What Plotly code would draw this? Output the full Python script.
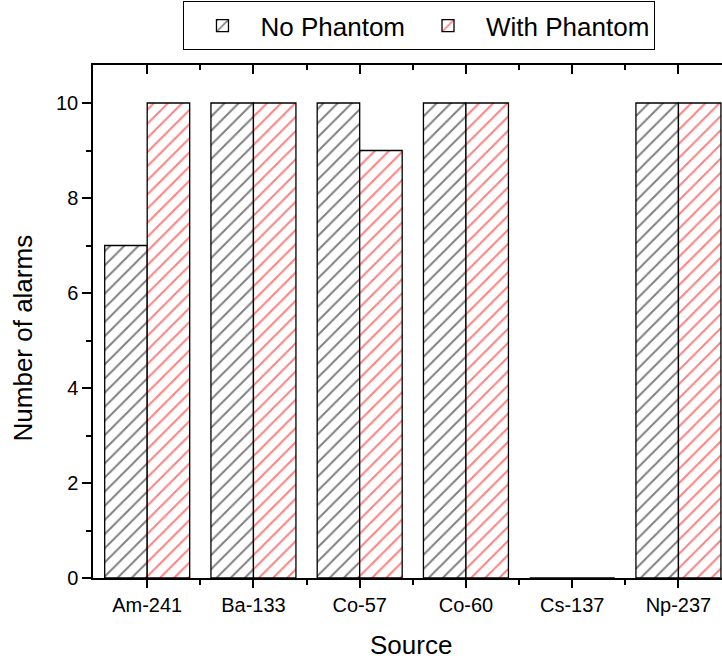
import plotly.graph_objects as go

categories = ["Am-241", "Ba-133", "Co-57", "Co-60", "Cs-137", "Np-237"]
no_phantom = [7, 10, 10, 10, 0, 10]
with_phantom = [10, 10, 9, 10, 0, 10]
y_ticks = [0, 2, 4, 6, 8, 10]
y_minor = [1, 3, 5, 7, 9]

xpos = list(range(len(categories)))
font_family = "Liberation Sans, Arial, sans-serif"

fig = go.Figure()
fig.add_trace(go.Bar(
    x=xpos, y=no_phantom, name="No Phantom",
    marker=dict(color="white", line=dict(color="black", width=1.3),
                pattern=dict(shape="/", fgcolor="black", bgcolor="white", size=10, solidity=0.2)),
))
fig.add_trace(go.Bar(
    x=xpos, y=with_phantom, name="With Phantom",
    marker=dict(color="white", line=dict(color="black", width=1.3),
                pattern=dict(shape="/", fgcolor="red", bgcolor="white", size=10, solidity=0.2)),
))
# invisible trace for top axis
fig.add_trace(go.Scatter(x=[xpos[0]], y=[0], xaxis="x2", mode="markers",
                         marker=dict(opacity=0), showlegend=False, hoverinfo="skip"))

xr = [-0.51, 5.41]
minor_x = [i + 0.5 for i in xpos[:-1]]

fig.update_layout(
    width=722, height=661,
    paper_bgcolor="white", plot_bgcolor="white",
    margin=dict(l=93, r=0, t=65, b=83, autoexpand=False),
    barmode="group", bargap=0.2, bargroupgap=0,
    font=dict(family=font_family, color="black", size=20),
    showlegend=True,
    legend=dict(orientation="h", xref="container", yref="container",
                x=0.581, y=0.998, xanchor="center", yanchor="top",
                bordercolor="black", borderwidth=1, bgcolor="white",
                font=dict(size=26, family=font_family), itemwidth=66,
                traceorder="normal", tracegroupgap=0),
    xaxis=dict(range=xr, tickmode="array", tickvals=xpos, ticktext=categories,
               showline=True, linecolor="black", linewidth=1.5, automargin=False,
               ticks="outside", ticklen=8, tickwidth=1.5, tickcolor="black",
               minor=dict(tickmode="array", tickvals=minor_x, ticks="outside",
                          ticklen=5, tickwidth=1.5, tickcolor="black"),
               showgrid=False, zeroline=False,
               tickfont=dict(size=20)),
    xaxis2=dict(range=xr, overlaying="x", side="top", anchor="y",
                tickmode="array", tickvals=xpos, showticklabels=False,
                showline=True, linecolor="black", linewidth=1.5, automargin=False,
                ticks="inside", ticklen=9, tickwidth=1.5, tickcolor="black",
                minor=dict(tickmode="array", tickvals=minor_x, ticks="inside",
                           ticklen=5, tickwidth=1.5, tickcolor="black"),
                showgrid=False, zeroline=False),
    yaxis=dict(range=[0, 10.8], tickmode="array", tickvals=y_ticks,
               showline=True, linecolor="black", linewidth=1.5, automargin=False,
               ticks="outside", ticklen=9, tickwidth=1.5, tickcolor="black",
               minor=dict(tickmode="array", tickvals=y_minor, ticks="outside",
                          ticklen=5, tickwidth=1.5, tickcolor="black"),
               showgrid=False, zeroline=False,
               tickfont=dict(size=20)),
    annotations=[
        dict(text="Source", xref="paper", yref="paper", x=0.506, y=-0.13,
             xanchor="center", yanchor="middle", showarrow=False,
             font=dict(size=26, family=font_family, color="black")),
        dict(text="Number of alarms", xref="paper", yref="paper", x=-0.112, y=0.468,
             xanchor="center", yanchor="middle", showarrow=False, textangle=-90,
             font=dict(size=26, family=font_family, color="black")),
    ],
)

fig.write_html("out.html", config={"displayModeBar": False},
               post_script="document.body.style.margin='0';document.body.style.overflow='hidden';")
